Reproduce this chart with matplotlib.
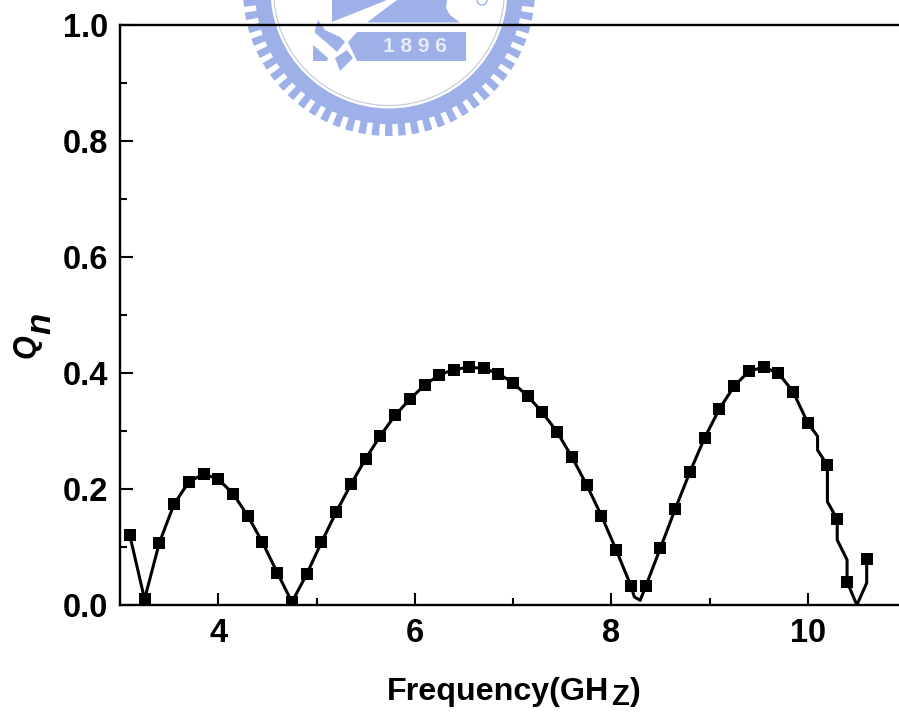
import numpy as np
from matplotlib import pyplot as plt
from matplotlib.patches import Circle, Polygon, Wedge
from matplotlib.ticker import MultipleLocator

plt.rcParams["font.family"] = ["Liberation Sans", "DejaVu Sans"]
plt.rcParams["font.weight"] = "bold"
plt.rcParams["font.size"] = 23.5

freq = [3.1, 3.25, 3.4, 3.55, 3.7, 3.85, 4.0, 4.15, 4.3, 4.45, 4.6, 4.75, 4.9,
        5.05, 5.2, 5.35, 5.5, 5.65, 5.8, 5.95, 6.1, 6.25, 6.4, 6.55, 6.7, 6.85,
        7.0, 7.15, 7.3, 7.45, 7.6, 7.75, 7.9, 8.05, 8.2, 8.35, 8.5, 8.65, 8.8,
        8.95, 9.1, 9.25, 9.4, 9.55, 9.7, 9.85, 10.0, 10.2, 10.3, 10.4, 10.6]
qn = [0.12, 0.01, 0.107, 0.174, 0.212, 0.226, 0.217, 0.192, 0.154, 0.108, 0.056,
      0.005, 0.053, 0.108, 0.16, 0.208, 0.252, 0.292, 0.327, 0.355, 0.379, 0.397,
      0.406, 0.41, 0.408, 0.399, 0.383, 0.36, 0.332, 0.298, 0.255, 0.207, 0.154,
      0.095, 0.033, 0.032, 0.098, 0.165, 0.229, 0.288, 0.338, 0.377, 0.403, 0.41,
      0.4, 0.368, 0.314, 0.241, 0.148, 0.04, 0.079]

# the connecting line has a few vertices of its own
dip_freq = [8.235, 8.295]
dip_qn = [0.014, 0.008]
tail_freq = [10.1, 10.1, 10.2, 10.2, 10.3, 10.3, 10.4, 10.4, 10.5, 10.6, 10.6]
tail_qn = [0.291, 0.267, 0.241, 0.178, 0.148, 0.112, 0.078, 0.04, 0.0, 0.038, 0.079]

line_freq = freq[:35] + dip_freq + freq[35:47] + tail_freq
line_qn = qn[:35] + dip_qn + qn[35:47] + tail_qn

W, H = 899, 712
SEAL = "#9db1e8"

fig = plt.figure(figsize=(W / 100, H / 100), dpi=100)


def draw_seal():
    # watermark, drawn in pixel coordinates behind the chart
    bg = fig.add_axes([0, 0, 1, 1], zorder=0)
    bg.set_xlim(0, W)
    bg.set_ylim(H, 0)
    bg.axis("off")
    cx, cy = 389, -10
    for a in np.arange(0, 360, 5.3):
        bg.add_patch(Wedge((cx, cy), 146, a - 1.5, a + 1.5, width=14, color=SEAL, lw=0))
    bg.add_patch(Circle((cx, cy), 134, color=SEAL, lw=0))
    bg.add_patch(Circle((cx, cy), 118.5, color="white", lw=0))
    bg.add_patch(Circle((cx, cy), 115.5, fill=False, ec="#c4c9d6", lw=0.8))
    bg.add_patch(Polygon([(357, 32), (466, 32), (466, 61), (357, 61), (348, 42)],
                         color=SEAL, lw=0))
    bg.text(415, 46.5, "1 8 9 6", color="#e6ebf8", fontsize=15, ha="center", va="center")
    bg.add_patch(Polygon([(332, 0), (387, 0), (337, 20), (332, 22)], color=SEAL, lw=0))
    bg.add_patch(Polygon([(397, 0), (447, 0), (446, 8), (450, 15), (460, 22.5), (367, 22.5)],
                         color=SEAL, lw=0))
    bg.add_patch(Polygon([(315, 30), (318, 20), (325, 30), (340, 37), (345, 42), (337, 52),
                          (327, 43), (315, 33)], color=SEAL, lw=0))
    bg.add_patch(Polygon([(313, 45), (328, 58), (327, 61), (313, 61)], color=SEAL, lw=0))
    bg.add_patch(Polygon([(335, 58), (347, 50), (353, 58), (340, 71)], color=SEAL, lw=0))
    bg.add_patch(Circle((482, 0), 5, fill=False, ec=SEAL, lw=1))


draw_seal()

ax = fig.add_axes([120 / W, (H - 605) / H, 786 / W, 580 / H], zorder=1)
ax.patch.set_alpha(0)
ax.plot(line_freq, line_qn, color="black", lw=2.2, solid_joinstyle="round")
ax.plot(freq, qn, ls="none", marker="s", ms=8.5, color="black", mew=0)

ax.set_xlim(3, 11)
ax.set_ylim(0, 1)
ax.xaxis.set_major_locator(MultipleLocator(2))
ax.xaxis.set_minor_locator(MultipleLocator(1))
ax.yaxis.set_major_locator(MultipleLocator(0.2))
ax.yaxis.set_minor_locator(MultipleLocator(0.1))
ax.tick_params(which="major", direction="in", length=9, width=1.5)
ax.tick_params(which="minor", direction="in", length=5, width=1.5)
ax.tick_params(axis="x", which="major", pad=9)
ax.tick_params(axis="y", which="major", pad=8.5)
for spine in ax.spines.values():
    spine.set_linewidth(1.7)

# axis titles are pieced together, the subscripts sit well below the baseline
fig.text(387 / W, 1 - 700 / H, "Frequency(GH", fontsize=23.2, ha="left", va="baseline")
fig.text(611 / W, 1 - 705 / H, "Z", fontsize=21, ha="left", va="baseline")
fig.text(630 / W, 1 - 700 / H, ")", fontsize=23.2, ha="left", va="baseline")
fig.text(35 / W, 1 - 358 / H, "Q", fontsize=22, style="italic", rotation=90,
         rotation_mode="anchor", ha="left", va="baseline")
fig.text(50 / W, 1 - 334 / H, "n", fontsize=25, style="italic", rotation=90,
         rotation_mode="anchor", ha="left", va="baseline")

fig.savefig("out.png", dpi=100)
